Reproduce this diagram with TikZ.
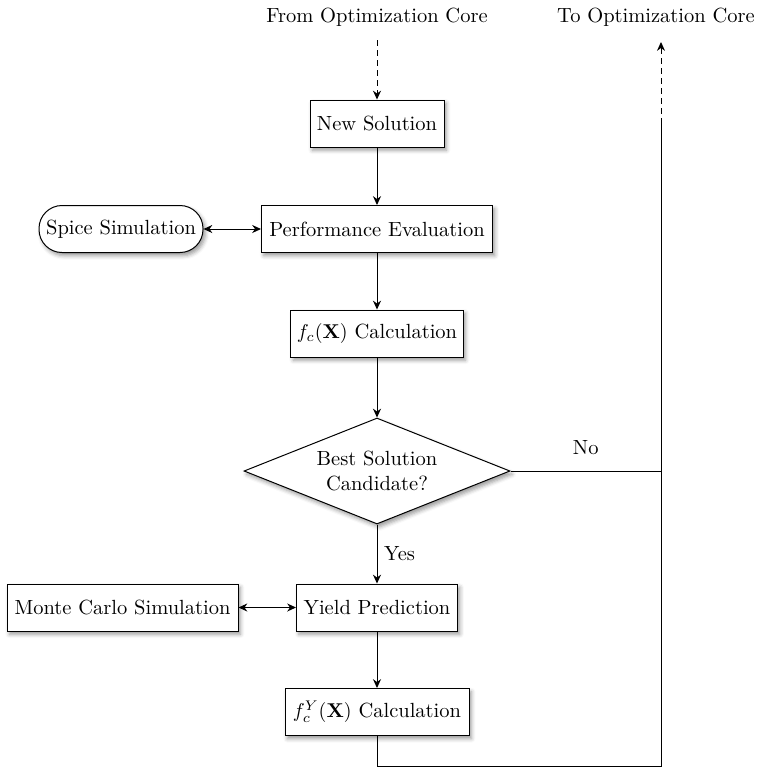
\documentclass[tikz,border=0pt]{standalone}
\usetikzlibrary{shapes.geometric,arrows.meta,shadows.blur}
\begin{document}
\begin{tikzpicture}[x=0.5pt,y=-0.5pt,
  >={Stealth[length=4.4pt,width=4pt,inset=1.4pt]},
  every path/.style={line width=0.5pt},
  every node/.append style={font=\fontsize{10.25pt}{12.6pt}\selectfont},
  softshadow/.style={blur shadow={shadow xshift=1.2pt,shadow yshift=-1.6pt,
      shadow blur radius=2pt,shadow opacity=40}},
  box/.style={draw,fill=white,rectangle,inner xsep=3pt,minimum height=23.5pt,softshadow},
  pill/.style={box,rounded corners=11.5pt},
  decision/.style={draw,fill=white,diamond,aspect=2.5,inner sep=0pt,
      minimum width=133pt,minimum height=53pt,align=center,softshadow},
  flow/.style={->},
  both/.style={<->},
  feed/.style={->,dash pattern=on 3pt off 2pt}]

\useasboundingbox (0,0) rectangle (762,768);

% labels of the outer optimisation loop
\node (fromcore) at (377,17) {From Optimization Core};
\node (tocore) at (656,17) {To Optimization Core};

% main column
\node[box,minimum width=67pt]    (ns)  at (377,123.5) {New Solution};
\node[box,minimum width=115.5pt] (pe)  at (377,229)   {Performance Evaluation};
\node[pill,minimum width=82pt]   (sp)  at (121,229)   {Spice Simulation};
\node[box,minimum width=68pt]    (fc)  at (377,333.5) {$f_c(\mathbf{X})$ Calculation};
\node[decision]                  (dec) at (377,471)   {Best Solution\\Candidate?};
\node[box,minimum width=80.5pt]  (yp)  at (377,607.5) {Yield Prediction};
\node[box,minimum width=115.5pt] (mc)  at (122.5,607.5) {Monte Carlo Simulation};
\node[box,minimum width=92pt]    (fcy) at (377,712)   {$f_c^Y(\mathbf{X})$ Calculation};

% helper points of the return path
\coordinate (in)    at (377,40);
\coordinate (out)   at (661,42);
\coordinate (join)  at (661,123.5);
\coordinate (nojn)  at (661,471);
\coordinate (lowl)  at (377,766);
\coordinate (lowr)  at (661,766);

% connectors
\draw[feed] (in) -- (ns);
\draw[flow] (ns) -- (pe);
\draw[both] (sp) -- (pe);
\draw[flow] (pe) -- (fc);
\draw[flow] (fc) -- (dec);
\draw[flow] (dec) -- node[right] {Yes} (yp);
\draw[both] (mc) -- (yp);
\draw[flow] (yp) -- (fcy);
\draw (dec.east) -- node[above=4.5pt] {No} (nojn);
\draw (fcy) -- (lowl) -- (lowr) -- (join);
\draw[feed] (join) -- (out);
\end{tikzpicture}
\end{document}
